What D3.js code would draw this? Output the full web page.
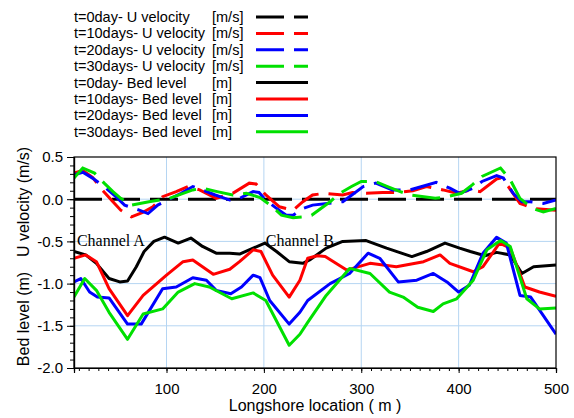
<!DOCTYPE html>
<html>
<head>
<meta charset="utf-8">
<script src="https://cdn.jsdelivr.net/npm/d3@7"></script>
<style>
  html, body { margin: 0; padding: 0; background: #fff; }
  svg { display: block; }
</style>
</head>
<body>
<svg id="chart" width="574" height="418"></svg>
<script>
// ---------- DATA ----------
const legendLabels = [
  "t=0day- U velocity", "t=10days- U velocity", "t=20days- U velocity", "t=30days- U velocity",
  "t=0day- Bed level", "t=10days- Bed level", "t=20days- Bed level", "t=30days- Bed level"
];
const legendUnits = ["[m/s]", "[m/s]", "[m/s]", "[m/s]", "[m]", "[m]", "[m]", "[m]"];
const seriesColors = ["#000000", "#ff0000", "#0000ff", "#00e000"];

const xTicks = [100, 200, 300, 400, 500];
const yTicks = [0.5, 0.0, -0.5, -1.0, -1.5, -2.0];

// U velocity (m/s): [location, value]
const vel0 = [[5, 0], [500, 0]];
const vel10 = [[5,0.31],[14,0.34],[24,0.26],[34,0.11],[45,-0.03],[53,-0.13],[64,-0.21],[75,-0.16],[86,-0.09],[96,0.03],[110,0.09],[122,0.15],[134,0.11],[151,0.01],[168,0.07],[185,0.19],[192,0.18],[202,0.05],[216,-0.09],[230,-0.13],[240,-0.03],[250,0.05],[262,0.07],[281,0.05],[291,0.08],[305,0.07],[322,0.08],[336,0.08],[353,0.10],[367,0.15],[384,0.11],[398,0.07],[412,0.11],[422,0.09],[439,0.24],[443,0.25],[451,0.15],[463,-0.05],[468,-0.07],[476,-0.11],[500,-0.13]];
const vel20 = [[5,0.29],[14,0.32],[24,0.25],[38,0.13],[48,0.03],[57,-0.07],[72,-0.13],[81,-0.17],[91,-0.07],[103,0.0],[115,0.07],[127,0.15],[137,0.11],[150,0.05],[165,-0.01],[175,0.01],[189,0.09],[195,0.08],[202,-0.01],[212,-0.1],[223,-0.19],[230,-0.19],[240,-0.11],[250,-0.07],[265,-0.05],[281,-0.03],[302,0.15],[315,0.19],[332,0.11],[350,0.11],[365,0.16],[377,0.20],[391,0.13],[401,0.07],[415,0.13],[424,0.21],[439,0.28],[446,0.25],[456,0.07],[465,-0.03],[473,-0.03],[487,-0.05],[500,-0.01]];
const vel30 = [[5,0.25],[14,0.37],[26,0.31],[36,0.19],[45,0.09],[53,0.01],[64,-0.07],[82,-0.03],[103,0.01],[115,0.06],[127,0.11],[137,0.13],[152,0.09],[168,0.05],[182,0.07],[196,0.02],[209,-0.09],[218,-0.19],[230,-0.22],[240,-0.21],[249,-0.19],[268,-0.03],[278,0.07],[290,0.15],[300,0.21],[314,0.21],[327,0.15],[340,0.09],[350,0.05],[376,0.01],[388,0.03],[403,0.07],[414,0.17],[424,0.27],[443,0.37],[453,0.23],[463,0.01],[476,-0.11],[487,-0.15],[500,-0.11]];

// Bed level (m): [location, value]
const bed0 = [[5,-0.62],[17,-0.66],[28,-0.76],[41,-0.94],[52,-0.98],[60,-0.97],[69,-0.80],[77,-0.62],[87,-0.50],[98,-0.45],[112,-0.52],[125,-0.46],[137,-0.56],[151,-0.64],[165,-0.64],[175,-0.65],[189,-0.58],[201,-0.52],[213,-0.62],[226,-0.74],[240,-0.76],[247,-0.72],[264,-0.58],[281,-0.50],[305,-0.49],[326,-0.58],[352,-0.68],[367,-0.62],[386,-0.52],[401,-0.58],[412,-0.62],[427,-0.67],[439,-0.63],[453,-0.66],[465,-0.88],[477,-0.80],[500,-0.78]];
const bed10 = [[5,-0.70],[17,-0.66],[28,-0.74],[41,-1.06],[60,-1.38],[76,-1.14],[100,-0.90],[117,-0.74],[127,-0.72],[148,-0.89],[165,-0.83],[175,-0.74],[189,-0.60],[197,-0.62],[209,-0.90],[226,-1.16],[237,-0.96],[245,-0.70],[255,-0.67],[263,-0.68],[285,-0.84],[309,-0.76],[336,-0.80],[364,-0.74],[381,-0.66],[391,-0.76],[415,-0.86],[425,-0.80],[442,-0.52],[453,-0.58],[468,-1.04],[483,-1.10],[500,-1.15]];
const bed20 = [[5,-0.98],[12,-0.94],[21,-1.10],[29,-1.16],[41,-1.17],[60,-1.48],[74,-1.48],[96,-1.06],[110,-1.04],[127,-0.93],[141,-0.96],[151,-1.08],[166,-1.12],[177,-1.04],[189,-0.90],[196,-0.93],[206,-1.20],[226,-1.48],[237,-1.34],[245,-1.20],[268,-1.00],[288,-0.88],[307,-0.64],[319,-0.70],[338,-0.98],[357,-0.96],[374,-0.88],[388,-0.98],[400,-1.10],[411,-1.02],[425,-0.64],[439,-0.45],[449,-0.52],[463,-1.14],[474,-1.16],[500,-1.60]];
const bed30 = [[5,-1.16],[16,-0.94],[28,-1.08],[41,-1.34],[60,-1.66],[76,-1.36],[96,-1.30],[112,-1.10],[129,-1.00],[144,-1.04],[167,-1.18],[189,-1.11],[202,-1.20],[226,-1.73],[237,-1.60],[245,-1.46],[264,-1.14],[288,-0.82],[309,-0.88],[329,-1.10],[343,-1.16],[358,-1.28],[374,-1.33],[384,-1.24],[398,-1.18],[415,-0.96],[429,-0.60],[443,-0.49],[453,-0.56],[470,-1.18],[483,-1.30],[500,-1.29]];

const velSeries = [vel0, vel10, vel20, vel30];
const bedSeries = [bed0, bed10, bed20, bed30];

const annotations = [
  { text: "Channel A", x: 8, y: -0.55 },
  { text: "Channel B", x: 202, y: -0.55 }
];

// ---------- LAYOUT ----------
const svg = d3.select("#chart");
const L = 74, R = 556, T = 157, B = 368;
const x = d3.scaleLinear().domain([5, 500]).range([L, R]);
const y = d3.scaleLinear().domain([-2, 0.5]).range([B, T]);
const sans = "'Liberation Sans', Arial, sans-serif";
const serif = "'Liberation Serif', 'Times New Roman', serif";
const DASH = "28,10";

// grid
const grid = svg.append("g");
grid.selectAll("line.v").data(xTicks.filter(d => d < 500)).enter().append("line")
  .attr("x1", d => x(d)).attr("x2", d => x(d)).attr("y1", T).attr("y2", B)
  .attr("stroke", "#b5d5f2").attr("stroke-width", 1);
grid.selectAll("line.h").data(yTicks.filter(d => d > -2 && d < 0.5)).enter().append("line")
  .attr("x1", L).attr("x2", R).attr("y1", d => y(d)).attr("y2", d => y(d))
  .attr("stroke", "#b5d5f2").attr("stroke-width", 1);

// clip
svg.append("defs").append("clipPath").attr("id", "clip")
  .append("rect").attr("x", L).attr("y", T).attr("width", R - L).attr("height", B - T);

const line = d3.line().x(d => x(d[0])).y(d => y(d[1]));
const plot = svg.append("g").attr("clip-path", "url(#clip)");

bedSeries.forEach((s, i) => {
  plot.append("path").datum(s).attr("d", line)
    .attr("fill", "none").attr("stroke", seriesColors[i])
    .attr("stroke-width", 3).attr("stroke-linejoin", "round");
});
velSeries.forEach((s, i) => {
  plot.append("path").datum(s).attr("d", line)
    .attr("fill", "none").attr("stroke", seriesColors[i])
    .attr("stroke-width", 3).attr("stroke-dasharray", DASH);
});

// annotations
svg.selectAll("text.ann").data(annotations).enter().append("text")
  .attr("x", d => x(d.x)).attr("y", d => y(d.y))
  .attr("font-family", serif).attr("font-size", 16).attr("fill", "#000")
  .text(d => d.text);

// frame
svg.append("rect").attr("x", L).attr("y", T).attr("width", R - L).attr("height", B - T)
  .attr("fill", "none").attr("stroke", "#000").attr("stroke-width", 1.2);

// y axis
const yAxis = svg.append("g").attr("transform", `translate(${L},0)`)
  .call(d3.axisLeft(y).tickValues(yTicks).tickSize(7).tickPadding(4).tickFormat(d => d.toFixed(1)));
const yMinor = svg.append("g").attr("transform", `translate(${L},0)`)
  .call(d3.axisLeft(y).tickValues(d3.range(-20, 6).map(v => v / 10)).tickSize(4).tickFormat(""));
// x axis
const xAxis = svg.append("g").attr("transform", `translate(0,${B})`)
  .call(d3.axisBottom(x).tickValues(xTicks).tickSize(5).tickPadding(10).tickFormat(d3.format("d")));
const xMinor = svg.append("g").attr("transform", `translate(0,${B})`)
  .call(d3.axisBottom(x).tickValues(d3.range(10, 501, 10)).tickSize(3).tickFormat(""));
[yAxis, yMinor, xAxis, xMinor].forEach(g => {
  g.select(".domain").attr("stroke", "#000").attr("stroke-width", 1.2);
  g.selectAll("line").attr("stroke", "#000");
  g.selectAll("text").attr("font-family", sans).attr("font-size", 15).attr("fill", "#000");
});

// axis titles
svg.append("text").attr("x", (L + R) / 2).attr("y", 411).attr("text-anchor", "middle")
  .attr("font-family", sans).attr("font-size", 16).text("Longshore location ( m )");
svg.append("text").attr("transform", "translate(29,202) rotate(-90)").attr("text-anchor", "middle")
  .attr("font-family", sans).attr("font-size", 16).text("U velocity (m/s)");
svg.append("text").attr("transform", "translate(29,319) rotate(-90)").attr("text-anchor", "middle")
  .attr("font-family", sans).attr("font-size", 16).text("Bed level (m)");

// legend
const lg = svg.append("g");
legendLabels.forEach((lab, i) => {
  const cy = 17 + i * 16.4;
  lg.append("text").attr("x", 74).attr("y", cy + 5)
    .attr("font-family", sans).attr("font-size", 14.5).text(lab);
  lg.append("text").attr("x", 212).attr("y", cy + 5)
    .attr("font-family", sans).attr("font-size", 14.5).text(legendUnits[i]);
  lg.append("line").attr("x1", 256).attr("x2", 308).attr("y1", cy).attr("y2", cy)
    .attr("stroke", seriesColors[i % 4]).attr("stroke-width", 3)
    .attr("stroke-dasharray", i < 4 ? DASH : null);
});
</script>
</body>
</html>
